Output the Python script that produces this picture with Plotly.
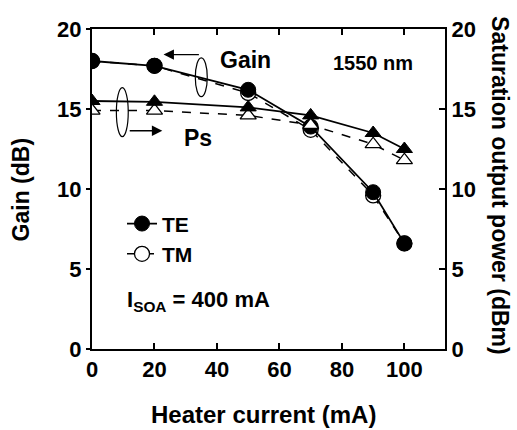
import plotly.graph_objects as go

heater = [0, 20, 50, 70, 90, 100]
gain_te = [18.0, 17.7, 16.2, 13.9, 9.8, 6.6]
gain_tm = [18.0, 17.7, 16.0, 13.7, 9.6, 6.6]
ps_te = [15.5, 15.45, 15.1, 14.6, 13.5, 12.5]
ps_tm = [14.9, 14.9, 14.6, 14.0, 12.8, 11.8]

x_ticks = [0, 20, 40, 60, 80, 100]
y_ticks = [0, 5, 10, 15, 20]

FONT = "Liberation Sans, Arial, sans-serif"
fig = go.Figure()

# Ps (right axis)
fig.add_trace(go.Scatter(x=heater, y=ps_tm, mode="lines+markers", yaxis="y2",
                         line=dict(color="black", width=1.5, dash="dash"),
                         marker=dict(symbol="triangle-up", size=14, color="white",
                                     line=dict(color="black", width=1.3)),
                         showlegend=False))
fig.add_trace(go.Scatter(x=heater, y=ps_te, mode="lines+markers", yaxis="y2",
                         line=dict(color="black", width=1.8),
                         marker=dict(symbol="triangle-up", size=14, color="black",
                                     line=dict(color="black", width=1)),
                         showlegend=False))
# Gain (left axis)
fig.add_trace(go.Scatter(x=heater, y=gain_tm, mode="lines+markers", name="TM",
                         line=dict(color="black", width=1.5, dash="dash"),
                         marker=dict(symbol="circle", size=15, color="white",
                                     line=dict(color="black", width=1.3))))
fig.add_trace(go.Scatter(x=heater, y=gain_te, mode="lines+markers", name="TE",
                         line=dict(color="black", width=1.8),
                         marker=dict(symbol="circle", size=15, color="black",
                                     line=dict(color="black", width=1))))

axis_font = dict(family=FONT, size=22, color="black", weight="bold")

fig.update_layout(
    width=517, height=430,
    margin=dict(l=92, r=72, t=29, b=81),
    paper_bgcolor="white", plot_bgcolor="white",
    font=dict(family=FONT, size=22, color="black"),
    showlegend=True,
    legend=dict(x=0.085, y=0.455, xanchor="left", yanchor="top",
                bgcolor="rgba(0,0,0,0)", traceorder="reversed",
                font=dict(family=FONT, size=21, color="black", weight="bold"),
                itemsizing="trace", tracegroupgap=0),
    xaxis=dict(range=[0, 113], tickvals=x_ticks, ticktext=[str(v) for v in x_ticks],
               ticks="inside", ticklen=6, tickwidth=1.5, tickcolor="black",
               showline=True, linewidth=2, linecolor="black", mirror="ticks",
               showgrid=False, zeroline=False, tickfont=axis_font),
    yaxis=dict(range=[0, 20], tickvals=y_ticks, ticktext=[str(v) for v in y_ticks],
               ticks="outside", ticklen=4, tickwidth=1.5, tickcolor="black",
               showline=True, linewidth=2, linecolor="black",
               showgrid=False, zeroline=False, tickfont=axis_font),
    yaxis2=dict(range=[0, 20], tickvals=y_ticks, ticktext=[str(v) for v in y_ticks],
                overlaying="y", side="right",
                ticks="inside", ticklen=6, tickwidth=1.5, tickcolor="black",
                showline=True, linewidth=2, linecolor="black",
                showgrid=False, zeroline=False, tickfont=axis_font),
)

anns = [
    dict(text="<b>Heater current (mA)</b>", xref="paper", yref="paper",
         x=0.485, y=-0.205, xanchor="center", yanchor="middle", showarrow=False,
         font=dict(family=FONT, size=24)),
    dict(text="<b>Gain (dB)</b>", xref="paper", yref="paper",
         x=-0.2, y=0.5, xanchor="center", yanchor="middle", textangle=-90,
         showarrow=False, font=dict(family=FONT, size=23)),
    dict(text="<b>Saturation output power (dBm)</b>", xref="paper", yref="paper",
         x=1.155, y=0.51, xanchor="center", yanchor="middle", textangle=90,
         showarrow=False, font=dict(family=FONT, size=23)),
    dict(text="<b>Gain</b>", x=40.4, y=18.08, xanchor="left", yanchor="middle",
         showarrow=False, font=dict(family=FONT, size=23)),
    dict(text="<b>Ps</b>", x=28.9, y=13.2, xanchor="left", yanchor="middle",
         showarrow=False, font=dict(family=FONT, size=23)),
    dict(text="<b>1550 nm</b>", x=89.8, y=17.9, xanchor="center", yanchor="middle",
         showarrow=False, font=dict(family=FONT, size=20)),
    dict(text="<b>I<sub>SOA</sub> = 400 mA</b>", x=10.7, y=3.0, xanchor="left",
         yanchor="middle", showarrow=False, font=dict(family=FONT, size=22)),
    # arrows
    dict(x=22.9, y=18.4, ax=34.7, ay=18.4, axref="x", ayref="y", xref="x", yref="y",
         text="", showarrow=True, arrowhead=2, arrowsize=1.6, arrowwidth=1.3,
         arrowcolor="black"),
    dict(x=22.5, y=13.64, ax=11.6, ay=13.64, axref="x", ayref="y", xref="x", yref="y",
         text="", showarrow=True, arrowhead=2, arrowsize=1.6, arrowwidth=1.3,
         arrowcolor="black"),
]
fig.update_layout(annotations=anns)

fig.add_shape(type="circle", xref="x", yref="y", x0=33.07, x1=36.9, y0=15.77, y1=18.2,
              line=dict(color="black", width=1.2))
fig.add_shape(type="circle", xref="x", yref="y", x0=7.8, x1=11.6, y0=13.27, y1=16.33,
              line=dict(color="black", width=1.2))

fig.write_html("out.html")
